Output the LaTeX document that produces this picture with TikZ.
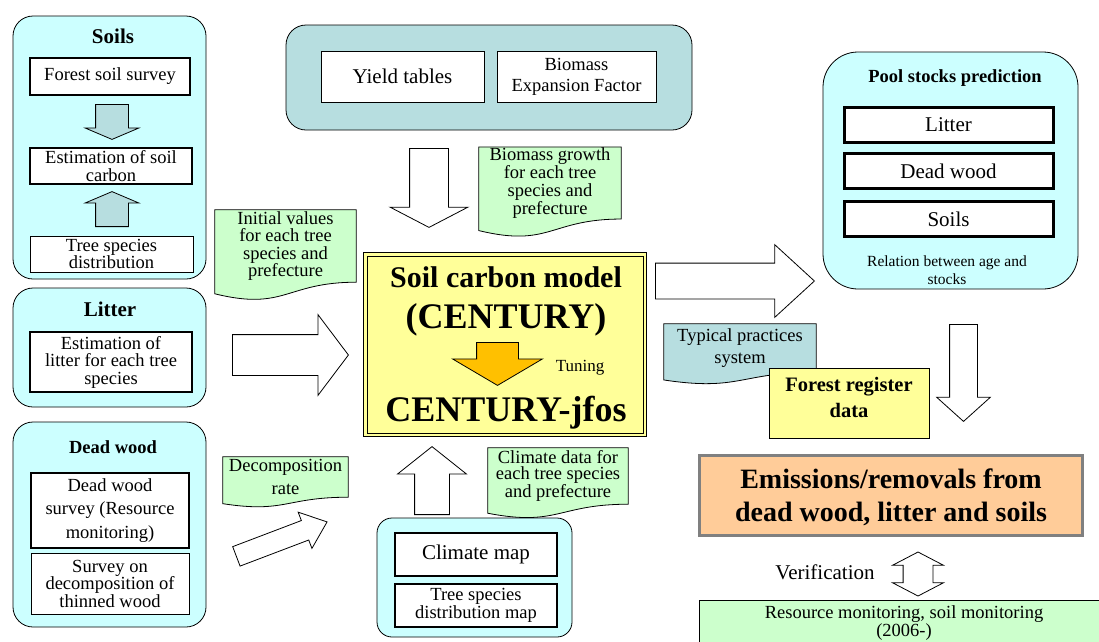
\documentclass[tikz,border=0pt]{standalone}
\usepackage{fontspec}
\setmainfont{Liberation Serif}
\usetikzlibrary{shapes.arrows,calc,backgrounds}

\definecolor{paleCyan}{HTML}{CCFFFF}
\definecolor{paleTeal}{HTML}{B7DEE0}
\definecolor{paleGreen}{HTML}{CCFFCC}
\definecolor{paleYellow}{HTML}{FFFF99}
\definecolor{tuneGold}{HTML}{FFC000}
\definecolor{peach}{HTML}{FFCC99}
\definecolor{frameGray}{HTML}{808080}

\newcommand{\fontNote}{\fontsize{18.5}{17.5}\selectfont}
\newcommand{\fontNoteWide}{\fontsize{18.5}{22.5}\selectfont}
\newcommand{\fontLarge}{\fontsize{21}{21}\selectfont}
\newcommand{\fontSmall}{\fontsize{15.5}{18}\selectfont}
\newcommand{\fontReg}{\fontsize{20.5}{26}\selectfont\bfseries}
\newcommand{\fontEmis}{\fontsize{28}{33}\selectfont\bfseries}
\newcommand{\fontModel}{\fontsize{30}{30}\selectfont\bfseries}
\newcommand{\fontHuge}{\fontsize{36}{36}\selectfont\bfseries}

% document shape: wavy lower edge below the node box
\newcommand{\docoutline}[2]{%
  \filldraw[fill=#2, line width=0.8pt]
    (#1.north west) -- (#1.north east) -- (#1.south east)
    .. controls (#1.south) and ($(#1.north)!1.4!(#1.south)$)
    .. ($(#1.north west)!1.16!(#1.south west)$) -- cycle;}

\begin{document}
\begin{tikzpicture}[x=1pt, y=-1pt,
  panel/.style={rectangle, draw, fill=paleCyan, line width=0.8pt, rounded corners=20pt, inner sep=0pt},
  inbox/.style={rectangle, draw, fill=white, line width=2pt, inner sep=0pt, align=center, font=\fontNote},
  thinbox/.style={inbox, line width=0.8pt},
  poolbox/.style={inbox, line width=3pt, font=\fontLarge, minimum width=209, minimum height=35},
  paneltitle/.style={font=\fontLarge\bfseries},
  docnote/.style={rectangle, inner sep=0pt, align=center, font=\fontNote},
  blockarrow/.style n args={3}{single arrow, draw, fill=white, line width=0.8pt, anchor=tail,
    inner xsep=0pt, inner ysep=#2/2, text height=0pt, text depth=0pt,
    minimum height=#1, minimum width=#3, single arrow head extend=(#3-#2)/2}
]
\useasboundingbox (0,0) rectangle (1099,641);
\clip (0,0) rectangle (1099,641);

% Soils
\node[panel, minimum width=193, minimum height=263] (soils) at (109.5,147.5) {};
\node[paneltitle] (soilsT) at (113,36) {Soils};
\node[inbox, minimum width=160, minimum height=37] (survey) at (110,76.5) {Forest soil survey};
\node[inbox, minimum width=162, minimum height=36] (soilC) at (111,166) {Estimation of soil\\carbon};
\node[thinbox, minimum width=163, minimum height=36] (species) at (111.5,254) {Tree species\\distribution};
\node[blockarrow={35}{32}{53}, fill=paleTeal, single arrow tip angle=134, rotate=-90] (soilsA1) at (112,104) {};
\node[blockarrow={35}{32}{53}, fill=paleTeal, single arrow tip angle=134, rotate=90] (soilsA2) at (112,227) {};

% Litter
\node[panel, minimum width=193, minimum height=119] (litter) at (109.5,347.5) {};
\node[paneltitle] (litterT) at (110,309) {Litter};
\node[inbox, minimum width=162, minimum height=60] (litterE) at (111,362) {Estimation of\\litter for each tree\\species};

% Dead wood
\node[panel, minimum width=193, minimum height=205] (dead) at (109.5,524.5) {};
\node[paneltitle, font=\fontNote\bfseries] (deadT) at (113,447) {Dead wood};
\node[inbox, font=\fontsize{18.5}{23.5}\selectfont, minimum width=158, minimum height=75] (deadS) at (110,510.5) {Dead wood\\survey (Resource\\monitoring)};
\node[thinbox, minimum width=158, minimum height=61] (thinned) at (110,583.5) {Survey on\\decomposition of\\thinned wood};

% growth data
\node[panel, fill=paleTeal, minimum width=406, minimum height=105] (growth) at (489,77.5) {};
\node[thinbox, font=\fontLarge, minimum width=163, minimum height=51] (yield) at (402.5,76.5) {Yield tables};
\node[thinbox, font=\fontsize{18.5}{21}\selectfont, minimum width=159, minimum height=51] (bef) at (576.5,76.5) {Biomass\\Expansion Factor};

% model
\node[rectangle, draw, line width=1pt, double=paleYellow, double distance=2.5pt, fill=paleYellow,
  minimum width=279.5, minimum height=180.5] (model) at (505,344.5) {};
\node[font=\fontModel] (modelT) at (506,277) {Soil carbon model};
\node[font=\fontHuge] (century) at (506,320) {(CENTURY)};
\node[blockarrow={43}{41}{89}, fill=tuneGold, single arrow tip angle=119, rotate=-90] (tune) at (497.5,342) {};
\node[font=\fontsize{17}{17}\selectfont] (tuneT) at (580,368) {Tuning};
\node[font=\fontHuge] (jfos) at (506,413) {CENTURY-jfos};

% block arrows
\node[blockarrow={79}{38}{77}, single arrow tip angle=125, rotate=-90] (growthA) at (429,148) {};
\node[blockarrow={116}{40}{80}, single arrow tip angle=106] (litterA) at (232,355) {};
\node[blockarrow={97}{20}{38}, single arrow tip angle=79, rotate=20.8] (deadA) at (236,556.5) {};
\node[blockarrow={68}{34}{68}, single arrow tip angle=103, rotate=90] (climA) at (432,515) {};
\node[blockarrow={159}{35}{72}, single arrow tip angle=85] (poolA) at (655,281) {};
\node[blockarrow={97}{27}{53}, single arrow tip angle=96, rotate=-90] (emisA) at (963.5,324) {};

% notes
\node[docnote, minimum width=141, minimum height=72] (initV) at (285.5,246) {Initial values\\for each tree\\species and\\prefecture};
\node[docnote, font=\fontsize{18.5}{18.3}\selectfont, minimum width=142, minimum height=70] (bioG) at (550,183) {Biomass growth\\for each tree\\species and\\prefecture};
\node[docnote, font=\fontNoteWide, minimum width=125, minimum height=40] (decomp) at (285.5,477) {Decomposition\\rate};
\node[docnote, font=\fontsize{18.5}{16.5}\selectfont, minimum width=140, minimum height=56] (climD) at (558,476) {Climate data for\\each tree species\\and prefecture};
\node[docnote, font=\fontNoteWide, minimum width=152, minimum height=48] (typical) at (740,348) {Typical practices\\system};
\begin{scope}[on background layer]
  \docoutline{initV}{paleGreen}
  \docoutline{bioG}{paleGreen}
  \docoutline{decomp}{paleGreen}
  \docoutline{climD}{paleGreen}
  \docoutline{typical}{paleTeal}
\end{scope}

% pool stocks
\node[panel, rounded corners=35pt, minimum width=255, minimum height=237] (pool) at (950.5,170.5) {};
\node[paneltitle, font=\fontNote\bfseries] (poolT) at (955,78) {Pool stocks prediction};
\node[poolbox] (pLitter) at (948.5,124.5) {Litter};
\node[poolbox] (pDead) at (948.5,171) {Dead wood};
\node[poolbox] (pSoils) at (948.5,219) {Soils};
\node[font=\fontSmall, align=center] (relation) at (947,270) {Relation between age and\\stocks};

% register, emissions, verification
\node[rectangle, draw, fill=paleYellow, line width=0.8pt, minimum width=160, minimum height=70] (register) at (849,403) {};
\node[align=center, font=\fontReg] (registerT) at (849,397) {Forest register\\data};
\node[rectangle, draw=frameGray, line width=3pt, fill=peach, minimum width=383, minimum height=80] (emis) at (891,495.5) {};
\node[align=center, font=\fontEmis] (emisT) at (891,497.5) {Emissions/removals from\\dead wood, litter and soils};
\node[font=\fontLarge] (verif) at (825,572) {Verification};
\node[double arrow, draw, fill=white, line width=0.8pt, inner xsep=0pt, inner ysep=14.5, text height=0pt,
  text depth=0pt, minimum height=44, minimum width=50, double arrow head extend=10.5,
  double arrow tip angle=125, rotate=90] (verifA) at (918,574) {};
\node[rectangle, draw, fill=paleGreen, line width=0.8pt, minimum width=410, minimum height=46,
  align=center, font=\fontsize{18.5}{16}\selectfont] (monitor) at (904,623) {Resource monitoring, soil monitoring\\(2006-)};

% climate inputs
\node[panel, rounded corners=15pt, minimum width=195, minimum height=119] (climG) at (474.5,577.5) {};
\node[inbox, font=\fontLarge, minimum width=162, minimum height=43] (climMap) at (476,554.5) {Climate map};
\node[inbox, font=\fontsize{18.5}{18}\selectfont, minimum width=162, minimum height=43] (speciesMap) at (476,605.5) {Tree species\\distribution map};
\end{tikzpicture}
\end{document}
